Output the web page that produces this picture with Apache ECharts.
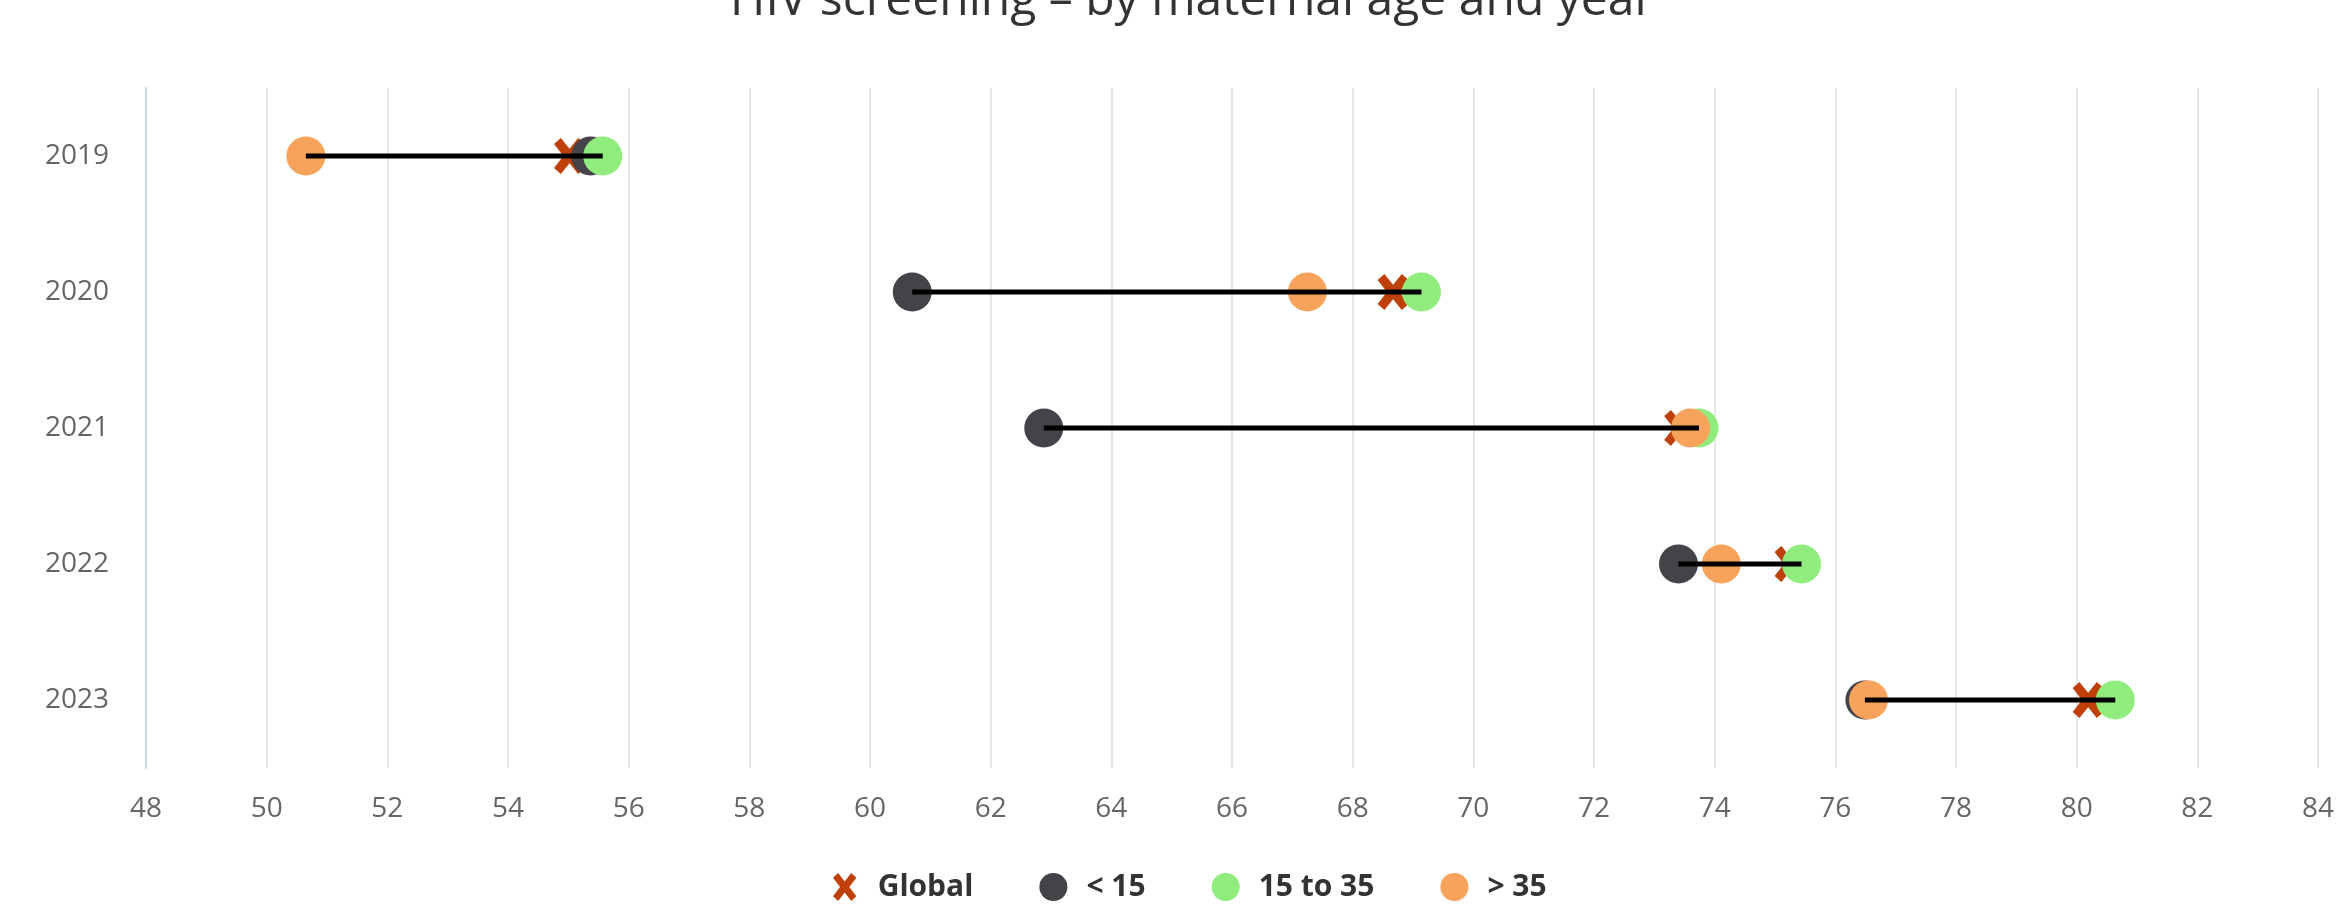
<!DOCTYPE html>
<html>
<head>
<meta charset="utf-8">
<script src="https://cdn.jsdelivr.net/npm/echarts@6/dist/echarts.min.js"></script>
<style>
  html, body { margin: 0; padding: 0; background: #ffffff; }
  #chart { width: 2348px; height: 904px; }
</style>
</head>
<body>
<div id="chart"></div>
<script>
// ---- data ----
const years = ['2019', '2020', '2021', '2022', '2023'];
const globalVals = [55.02, 68.67, 73.42, 75.25, 80.19];
const under15 = [55.37, 60.70, 62.88, 73.40, 76.49];
const age15to35 = [55.57, 69.14, 73.74, 75.44, 80.64];
const over35 = [50.65, 67.25, 73.60, 74.11, 76.55];
const xTicksMin = 48, xTicksMax = 84, xTickStep = 2;

const seriesNames = ['Global', '< 15', '15 to 35', '> 35'];
const colors = ['#c0400a', '#434348', '#90ed7d', '#f7a35c'];
const crossPath = 'path://M22,0 L50,36 L78,0 L100,20 L70,60 L100,100 L78,120 L50,84 L22,120 L0,100 L30,60 L0,20 Z';

function pairs(vals) { return vals.map((v, i) => [v, years[i]]); }

const ranges = years.map((y, i) => {
  const vs = [under15[i], age15to35[i], over35[i]];
  return [Math.min(...vs), Math.max(...vs), y];
});

const chart = echarts.init(document.getElementById('chart'), null, { renderer: 'canvas' });
const font = '"Open Sans", "Noto Sans", sans-serif';

chart.setOption({
  animation: false,
  backgroundColor: '#ffffff',
  title: {
    text: 'HIV screening – by maternal age and year',
    left: 1187,
    textAlign: 'center',
    top: -28,
    textStyle: { fontFamily: font, fontSize: 48, fontWeight: 'normal', color: '#333333' }
  },
  legend: {
    left: 828,
    top: 867,
    itemWidth: 28,
    itemHeight: 28,
    itemGap: 66,
    textStyle: { fontFamily: font, fontSize: 30, fontWeight: 'bold', color: '#333333', padding: [0, 0, 0, 14] },
    data: [
      { name: 'Global', icon: crossPath },
      { name: '< 15', icon: 'circle' },
      { name: '15 to 35', icon: 'circle' },
      { name: '> 35', icon: 'circle' }
    ]
  },
  grid: { left: 146, right: 30, top: 88, bottom: 136, containLabel: false },
  xAxis: {
    type: 'value',
    min: xTicksMin,
    max: xTicksMax,
    interval: xTickStep,
    axisLine: { show: false },
    axisTick: { show: false },
    splitLine: { show: true, lineStyle: { color: '#e6e6e6', width: 2 } },
    axisLabel: { fontFamily: font, fontSize: 28, color: '#666666', margin: 27 }
  },
  yAxis: {
    type: 'category',
    data: years,
    inverse: true,
    axisLine: { show: true, lineStyle: { color: '#ccd6eb', width: 2 } },
    axisTick: { show: false },
    splitLine: { show: false },
    axisLabel: { fontFamily: font, fontSize: 28, color: '#666666', margin: 37 }
  },
  series: [
    { name: 'Global', type: 'scatter', symbol: crossPath, symbolSize: [31, 36], itemStyle: { color: colors[0], opacity: 1 }, data: pairs(globalVals), z: 2 },
    { name: '< 15', type: 'scatter', symbol: 'circle', symbolSize: 39, itemStyle: { color: colors[1], opacity: 1 }, data: pairs(under15), z: 3 },
    { name: '15 to 35', type: 'scatter', symbol: 'circle', symbolSize: 39, itemStyle: { color: colors[2], opacity: 1 }, data: pairs(age15to35), z: 4 },
    { name: '> 35', type: 'scatter', symbol: 'circle', symbolSize: 39, itemStyle: { color: colors[3], opacity: 1 }, data: pairs(over35), z: 5 },
    {
      name: 'range', type: 'custom', z: 10, silent: true,
      encode: { x: [0, 1], y: 2 },
      data: ranges,
      renderItem: function (params, api) {
        const cat = api.value(2);
        const p1 = api.coord([api.value(0), cat]);
        const p2 = api.coord([api.value(1), cat]);
        return {
          type: 'line',
          shape: { x1: p1[0], y1: p1[1], x2: p2[0], y2: p2[1] },
          style: { stroke: '#000000', lineWidth: 5 }
        };
      }
    }
  ]
});
</script>
</body>
</html>
